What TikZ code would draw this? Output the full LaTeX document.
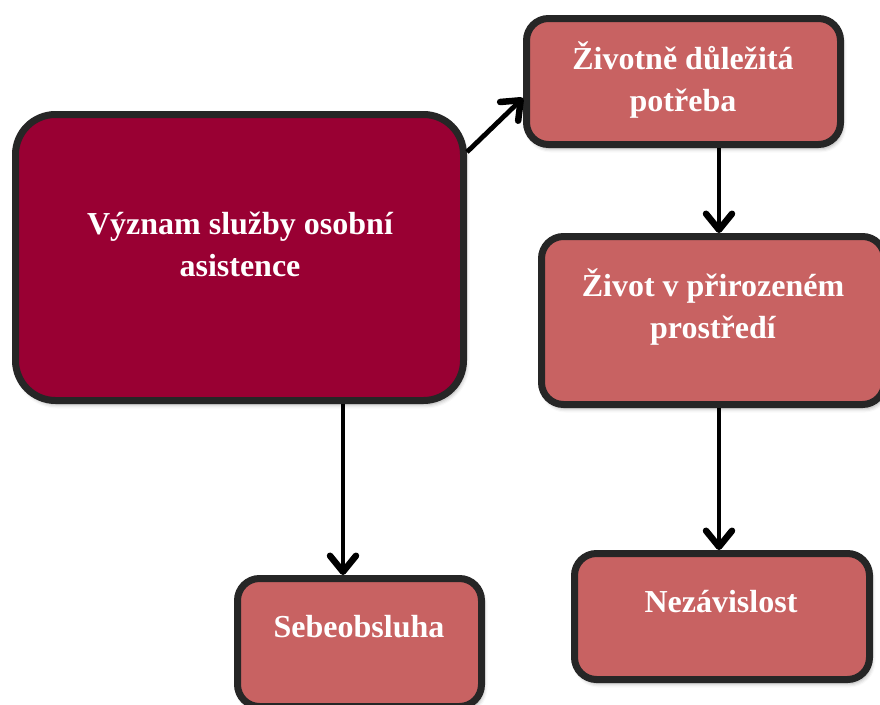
\documentclass[tikz,border=0pt]{standalone}
\usepackage{fontspec}
\setmainfont{Liberation Serif}
\usetikzlibrary{arrows.meta,shadows.blur}

\definecolor{wine}{HTML}{990033}
\definecolor{rosebox}{HTML}{C86262}
\definecolor{edgegray}{HTML}{262626}

\tikzset{
  card/.style={draw=edgegray, line width=7pt, rectangle,
    blur shadow={shadow xshift=2pt, shadow yshift=-4pt,
      shadow opacity=35, shadow blur radius=4pt}},
  bigcard/.style={card, fill=wine, rounded corners=40pt},
  smallcard/.style={card, fill=rosebox, rounded corners=22pt},
  caption/.style={text=white, align=center,
    font=\fontsize{32}{42}\selectfont\bfseries},
  link/.style={line width=4.8pt, black,
    -{Straight Barb[length=16pt,width=26pt,round,line width=6.5pt]}}
}

\begin{document}
\begin{tikzpicture}[x=1pt,y=-1pt]
  \useasboundingbox (0,0) rectangle (880,704);
  \clip (0,0) rectangle (880,704);

  % boxes
  \node[bigcard, minimum width=448pt, minimum height=286pt] (main) at (239.5,257.5) {};
  \node[smallcard, minimum width=314pt, minimum height=126pt] (need) at (683.5,81.5) {};
  \node[smallcard, minimum width=343pt, minimum height=168pt] (life) at (713,320.5) {};
  \node[smallcard, minimum width=244pt, minimum height=128pt] (self) at (359.5,642.5) {};
  \node[smallcard, minimum width=295pt, minimum height=126pt] (indep) at (722,616.5) {};

  % captions
  \node[caption] (tmain) at (240,244) {Význam služby osobní\\asistence};
  \node[caption] (tneed) at (683,80) {Životně důležitá\\potřeba};
  \node[caption] (tlife) at (713,307) {Život v přirozeném\\prostředí};
  \node[caption] (tself) at (359,627) {Sebeobsluha};
  \node[caption] (tindep) at (721,602) {Nezávislost};

  % arrow end points on the box borders
  \coordinate (selfin) at ([xshift=-16.5pt]self.north);
  \coordinate (indepin) at ([xshift=-3pt]indep.north);
  \coordinate (needout) at ([xshift=35.5pt]need.south);

  % connectors
  \draw[link] ([yshift=-41pt]main.north east) -- ([yshift=-16.5pt]need.west);
  \draw[link] (needout) -- (needout |- life.north);
  \draw[link] (main.south -| selfin) -- (selfin);
  \draw[link] (life.south -| indepin) -- (indepin);
\end{tikzpicture}
\end{document}
